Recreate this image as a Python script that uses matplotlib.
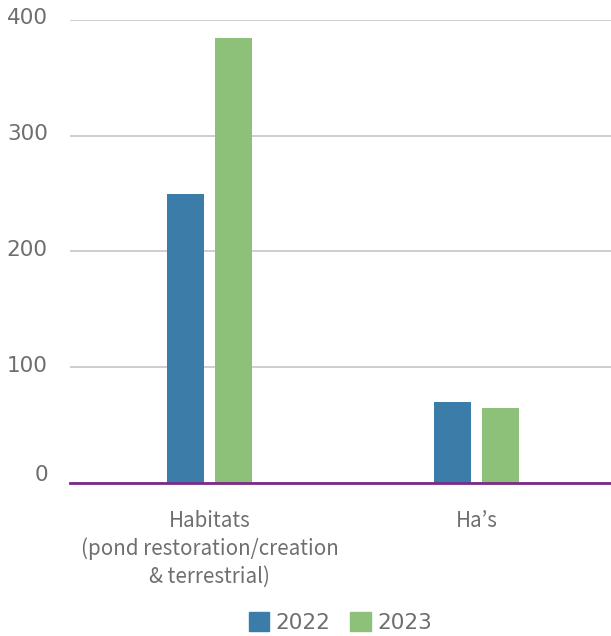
import matplotlib.pyplot as plt
import matplotlib.transforms as mtransforms
import numpy as np
from matplotlib.patches import Patch

categories = ["Habitats\n(pond restoration/creation\n& terrestrial)", "Ha\u2019s"]
series_names = ["2022", "2023"]
values_2022 = [250, 70]
values_2023 = [384, 65]
y_ticks = [0, 100, 200, 300, 400]

BLUE = "#3b7da8"
GREEN = "#8dc17a"
GREY = "#6e6e6e"

fig = plt.figure(figsize=(6.11, 6.36), dpi=100)
ax = fig.add_axes([0.1146, 0.2406, 0.8854, 0.728])

x = np.arange(len(categories))
width = 0.139
offset = 0.09
ax.bar(x - offset, values_2022, width, color=BLUE, zorder=3)
ax.bar(x + offset, values_2023, width, color=GREEN, zorder=3)

ax.set_xlim(-0.522, 1.504)
ax.set_ylim(0, 400)
ax.set_yticks(y_ticks)
ax.set_yticklabels([str(t) for t in y_ticks], fontsize=15.5, color=GREY)
ax.tick_params(axis="y", length=0, pad=16)
ax.yaxis.grid(True, color="#c6c6c6", linewidth=1.2, zorder=0)
ax.set_axisbelow(True)

# nudge the value labels up a little; the zero label sits on the axis line
for tick, label in zip(y_ticks, ax.get_yticklabels()):
    dy = 7 if tick == 0 else 2.5
    label.set_transform(label.get_transform() + mtransforms.ScaledTranslation(0, dy / 72, fig.dpi_scale_trans))

ax.set_xticks(x)
ax.set_xticklabels(categories, fontsize=14.8, color=GREY, linespacing=1.32,
                   family=["Noto Sans CJK JP", "DejaVu Sans"])
ax.tick_params(axis="x", length=0, pad=19.5)

for side in ["left", "right", "top"]:
    ax.spines[side].set_visible(False)
ax.spines["bottom"].set_color("#7b2a88")
ax.spines["bottom"].set_linewidth(2)
ax.spines["bottom"].set_zorder(4)

handles = [Patch(color=BLUE, label=series_names[0]), Patch(color=GREEN, label=series_names[1])]
fig.legend(handles=handles, loc="center", bbox_to_anchor=(0.557, 0.022), ncol=2,
           frameon=False, fontsize=15.5, labelcolor=GREY, handlelength=0.95, handleheight=1.0,
           handletextpad=0.3, columnspacing=0.9)

fig.savefig("out.png", dpi=100)
